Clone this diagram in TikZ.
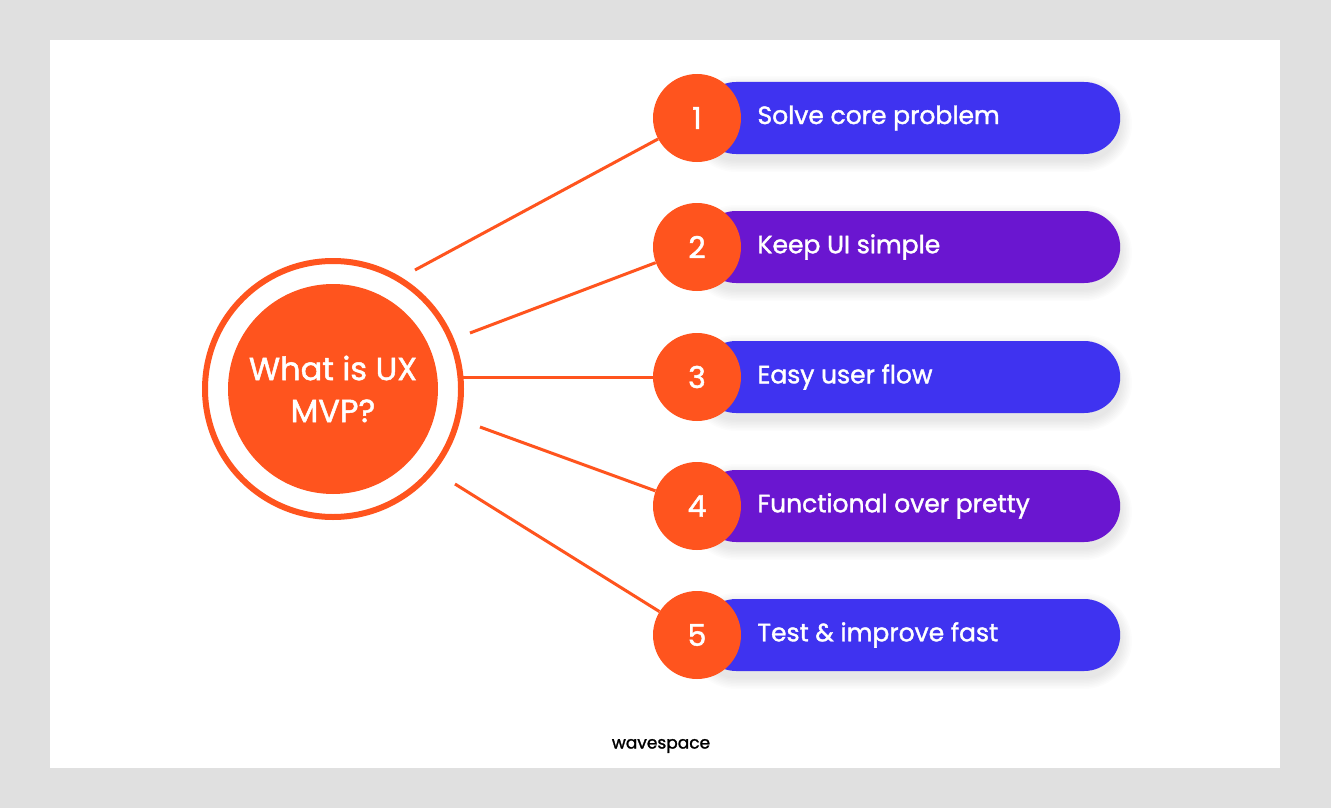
\documentclass[tikz,border=0pt]{standalone}
\usepackage{fontspec}
\setmainfont{Poppins}
\newfontfamily\medfont{Poppins}[FakeBold=1.5]
\definecolor{bg}{HTML}{E0E0E0}
\definecolor{org}{HTML}{FF541E}
\definecolor{blu}{HTML}{3F33F0}
\definecolor{pur}{HTML}{6A16D0}
\begin{document}
\begin{tikzpicture}[x=1pt,y=-1pt,
  pill/.style={rounded corners=36pt,minimum width=420pt,minimum height=72pt,anchor=west,inner sep=0pt},
  num/.style={circle,fill=org,minimum size=88pt,inner sep=0pt,text=white,font=\medfont\fontsize{30}{30}\selectfont},
  lbl/.style={anchor=west,text=white,font=\medfont\fontsize{25}{25}\selectfont},
  conn/.style={draw=org,line width=3pt}]
\useasboundingbox (0,0) rectangle (1331,808);
\fill[bg] (0,0) rectangle (1331,808);
\fill[white] (50,40) rectangle (1280,768);
\foreach \i/\y/\c in {1/118/blu,2/247/pur,3/377/blu,4/506/pur,5/635/blu}{
  \foreach \k in {1,...,8}{
    \fill[black,opacity=0.012,rounded corners={36pt+1.5pt*\k}] (700-1.5*\k,\y-36+6-1.5*\k) rectangle (1120+1.5*\k,\y+36+6+1.5*\k);
  }
  \node[pill,fill=\c] (p\i) at (700,\y) {};
}
\coordinate (s1) at (415,270); \coordinate (s2) at (470,333);
\coordinate (s3) at (463,377); \coordinate (s4) at (480,427);
\coordinate (s5) at (455,484);
\foreach \i/\y/\t in {1/118/Solve core problem,2/247/Keep UI simple,3/377/Easy user flow,4/506/Functional over pretty,5/635/Test \& improve fast}{
  \node[num] (n\i) at (697,\y) {\i};
  \node[lbl] (t\i) at (754,\y) {\t};
  \draw[conn] (s\i) -- (n\i);
}
\node[circle,draw=org,line width=6pt,fill=white,minimum size=256pt] (ring) at (333,389) {};
\node[circle,fill=org,minimum size=210pt,text=white,align=center,font=\medfont\fontsize{32}{42}\selectfont] (c) at (333,389) {What is UX\\MVP?};
\node[font=\medfont\fontsize{17}{17}\selectfont] (logo) at (661,746) {wavespace};
\end{tikzpicture}
\end{document}
